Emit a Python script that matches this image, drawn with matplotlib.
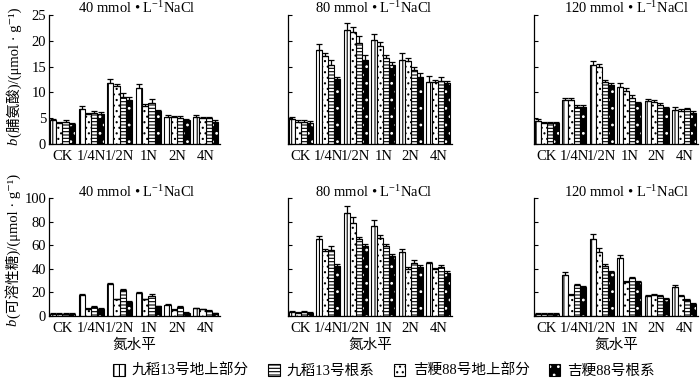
import numpy as np
import matplotlib
matplotlib.use('Agg')
import matplotlib.pyplot as plt
from matplotlib.patches import Patch

plt.rcParams['font.family'] = ['Liberation Serif', 'Noto Sans CJK SC', 'DejaVu Serif']
plt.rcParams['mathtext.fontset'] = 'custom'
plt.rcParams['mathtext.rm'] = 'Liberation Serif'
plt.rcParams['mathtext.it'] = 'Liberation Serif:italic'
plt.rcParams['hatch.linewidth'] = 0.8

groups = ['CK', '1/4N', '1/2N', '1N', '2N', '4N']
series = ['九稻13号地上部分', '九稻13号根系', '吉粳88号地上部分', '吉粳88号根系']
salt = ['40', '80', '120']

# rows in series order: 九稻地上, 九稻根系, 吉粳地上, 吉粳根系
pro_40 = [[4.6, 6.7, 11.8, 10.9, 5.3, 5.3],
          [4.3, 6.0, 9.2, 7.9, 5.1, 5.0],
          [4.0, 5.75, 11.2, 7.4, 5.2, 5.0],
          [3.8, 5.9, 8.5, 6.3, 4.6, 4.3]]
pro_40_err = [[0.3, 0.7, 0.8, 0.7, 0.4, 0.4],
              [0.3, 0.4, 0.7, 0.8, 0.3, 0.3],
              [0.2, 0.2, 0.4, 0.3, 0.3, 0.3],
              [0.3, 0.3, 0.7, 0.3, 0.3, 0.3]]
pro_80 = [[4.8, 18.2, 22.1, 20.2, 16.3, 12.1],
          [4.3, 15.4, 19.6, 16.6, 14.3, 12.3],
          [4.3, 17.1, 21.8, 19.0, 16.0, 12.0],
          [4.1, 12.6, 16.3, 15.4, 13.0, 11.9]]
pro_80_err = [[0.4, 1.1, 1.3, 1.1, 1.3, 1.1],
              [0.3, 0.9, 1.3, 0.6, 0.7, 0.6],
              [0.3, 0.5, 0.9, 0.8, 0.6, 0.5],
              [0.3, 0.3, 0.9, 0.4, 0.7, 0.4]]
pro_120 = [[4.5, 8.5, 15.3, 11.0, 8.4, 6.6],
           [4.1, 7.2, 12.1, 9.0, 7.6, 6.7],
           [4.1, 8.5, 15.0, 10.3, 8.2, 6.4],
           [4.0, 7.2, 11.4, 7.9, 6.9, 6.1]]
pro_120_err = [[0.3, 0.5, 0.7, 0.8, 0.3, 0.6],
               [0.2, 0.3, 0.4, 0.5, 0.3, 0.3],
               [0.2, 0.5, 0.6, 0.5, 0.3, 0.3],
               [0.2, 0.3, 0.4, 0.3, 0.3, 0.3]]

sug_40 = [[2.0, 17.6, 27.0, 19.6, 9.1, 6.5],
          [2.0, 7.7, 21.9, 17.0, 7.7, 4.3],
          [2.0, 6.3, 14.2, 14.2, 5.4, 5.7],
          [2.0, 6.3, 12.0, 8.2, 2.8, 2.6]]
sug_40_err = [[0.3, 0.8, 1.0, 1.1, 0.8, 0.6],
              [0.3, 0.8, 0.8, 1.5, 0.8, 0.4],
              [0.3, 0.5, 0.5, 0.5, 0.5, 0.4],
              [0.3, 0.5, 0.6, 0.5, 0.3, 0.3]]
sug_80 = [[3.4, 65, 87, 76, 54.5, 44.6],
          [3.4, 56, 65, 59, 44.6, 41.8],
          [2.6, 55, 79, 66.5, 40, 39.5],
          [2.6, 42.3, 59, 51, 41.8, 36.6]]
sug_80_err = [[0.5, 3, 6, 5, 2.5, 1.5],
              [0.5, 3, 2, 2, 2.8, 1.2],
              [0.4, 2, 5, 2.5, 1.5, 1.5],
              [0.4, 1.5, 2, 1.5, 1.5, 1.2]]
sug_120 = [[2.0, 34.7, 65, 48.9, 17, 24.7],
           [2.0, 26, 42.3, 31.8, 17, 13.4],
           [2.0, 17.6, 54.5, 29, 17.6, 17],
           [2.0, 24.7, 37.5, 28.4, 14.8, 10]]
sug_120_err = [[0.3, 2.8, 4.6, 2.8, 0.7, 1.3],
               [0.3, 0.7, 1.5, 1.5, 0.7, 0.8],
               [0.3, 0.8, 3.5, 1, 0.7, 0.8],
               [0.3, 0.7, 1, 1, 0.7, 0.6]]

# slot of each series inside a group (bars drawn: 九稻地上, 吉粳地上, 九稻根系, 吉粳根系)
slot = [0, 2, 1, 3]
hatches = ['|||', '-----', '...', '..']

W, H = 700, 379
fig = plt.figure(figsize=(7, 3.79), dpi=100)


def px_axes(x0, x1, ytop, ybot):
    return fig.add_axes([x0 / W, 1 - ybot / H, (x1 - x0) / W, (ybot - ytop) / H])


def draw_panel(ax, vals, errs, ymax, step, show_labels):
    x = np.arange(len(groups))
    bw = 0.22
    for i in range(4):
        pos = x - 0.33 + slot[i] * bw
        v = np.array(vals[i])
        e = np.array(errs[i])
        if i == 3:
            ax.bar(pos, v, bw, color='black', edgecolor='white', hatch=hatches[i], lw=0)
            ax.bar(pos, v, bw, fill=False, edgecolor='black', lw=0.8)
        else:
            ax.bar(pos, v, bw, color='white', edgecolor='black', hatch=hatches[i], lw=0.8)
        ax.errorbar(pos, v, yerr=[np.zeros_like(e), e], fmt='none', ecolor='black',
                    elinewidth=0.9, capsize=2.5, capthick=0.9)
    ax.set_xlim(-0.47, 5.5)
    ax.set_ylim(0, ymax)
    ax.set_yticks(np.arange(0, ymax + 1, step))
    ax.set_xticks(x)
    ax.set_xticklabels(groups, fontsize=10.5)
    ax.tick_params(axis='x', length=0, pad=4)
    ax.tick_params(axis='y', direction='in', length=3, width=0.8, labelsize=10.5, pad=2)
    if not show_labels:
        ax.set_yticklabels([])
    for s in ['top', 'right']:
        ax.spines[s].set_visible(False)
    for s in ['left', 'bottom']:
        ax.spines[s].set_linewidth(0.9)


cols = [(49, 220), (288, 452), (534, 698)]
title_x = [137, 374, 626]
pro = [(pro_40, pro_40_err), (pro_80, pro_80_err), (pro_120, pro_120_err)]
sug = [(sug_40, sug_40_err), (sug_80, sug_80_err), (sug_120, sug_120_err)]

for j, (x0, x1) in enumerate(cols):
    ax = px_axes(x0, x1, 15, 144)
    draw_panel(ax, pro[j][0], pro[j][1], 25, 5, j == 0)
    fig.text(title_x[j] / W, 1 - 8 / H, salt[j] + r' mmol • L$^{\mathrm{-1}}$NaCl',
             ha='center', va='center', fontsize=10.5)

    ax = px_axes(x0, x1, 198, 316)
    draw_panel(ax, sug[j][0], sug[j][1], 100, 20, j == 0)
    fig.text(title_x[j] / W, 1 - 192 / H, salt[j] + r' mmol • L$^{\mathrm{-1}}$NaCl',
             ha='center', va='center', fontsize=10.5)
    ax.set_xlabel('氮水平', fontsize=10.5, labelpad=3)

# y labels: italic b drawn separately, rest of the label follows upward
fig.text(14 / W, 1 - 142 / H, r'$\mathit{b}$', rotation=90,
         ha='center', va='center', fontsize=10.5)
fig.text(14 / W, 1 - 137 / H, '(脯氨酸)/(μmol · g⁻¹)', rotation=90,
         ha='center', va='bottom', fontsize=10.5)
fig.text(13 / W, 1 - 323 / H, r'$\mathit{b}$', rotation=90,
         ha='center', va='center', fontsize=10.5)
fig.text(13 / W, 1 - 318 / H, '(可溶性糖)/(μmol · g⁻¹)', rotation=90,
         ha='center', va='bottom', fontsize=10.5)

handles = [Patch(facecolor='white', edgecolor='black', hatch=hatches[0], lw=0.8),
           Patch(facecolor='white', edgecolor='black', hatch=hatches[1], lw=0.8),
           Patch(facecolor='white', edgecolor='black', hatch=hatches[2], lw=0.8),
           (Patch(facecolor='black', edgecolor='white', hatch=hatches[3], lw=0),
            Patch(fill=False, edgecolor='black', lw=0.8))]
fig.legend(handles, series, loc='center', bbox_to_anchor=(384 / W, 1 - 371 / H),
           ncol=4, frameon=False, fontsize=10.5, handlelength=0.8, handleheight=0.8,
           handletextpad=0.5, columnspacing=1.3, borderpad=0)

fig.savefig('out.png', dpi=100)
